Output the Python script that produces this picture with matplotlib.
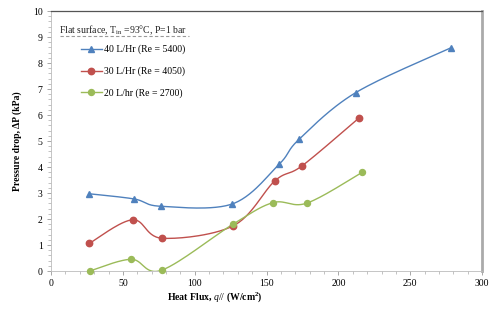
import numpy as np
import matplotlib
matplotlib.use("Agg")
import matplotlib.pyplot as plt
from matplotlib.lines import Line2D
from matplotlib.ticker import MultipleLocator

plt.rcParams['font.family'] = ['Liberation Serif', 'DejaVu Serif']
plt.rcParams['mathtext.fontset'] = 'custom'
plt.rcParams['mathtext.rm'] = 'Liberation Serif'
plt.rcParams['mathtext.it'] = 'Liberation Serif:italic'
plt.rcParams['mathtext.bf'] = 'Liberation Serif:bold'

# data
x40 = [26.6, 57.9, 76.2, 126.2, 158.6, 172.5, 212.0, 278.5]
y40 = [2.97, 2.77, 2.49, 2.58, 4.10, 5.06, 6.86, 8.59]
x30 = [26.6, 56.7, 77.3, 126.9, 155.8, 174.8, 214.6]
y30 = [1.06, 1.97, 1.26, 1.74, 3.47, 4.05, 5.90]
x20 = [26.9, 55.8, 76.9, 126.6, 154.5, 178.0, 216.7]
y20 = [0.0, 0.45, 0.03, 1.80, 2.63, 2.61, 3.80]
labels = ["40 L/Hr (Re = 5400)", "30 L/Hr (Re = 4050)", "20 L/hr (Re = 2700)"]
colors = ["#4F81BD", "#C0504D", "#9BBB59"]
markers = ["^", "o", "o"]
msizes = [5, 4.6, 4.3]

fig = plt.figure(figsize=(4.92, 3.10), dpi=100)
ax = fig.add_axes([0.1037, 0.1258, 0.8763, 0.8387])
ax.set_xlim(0, 300)
ax.set_ylim(0, 10)

def smooth(xs, ys, sx=1.437, sy=26.0, n=30):
    P = np.column_stack([np.array(xs) * sx, np.array(ys) * sy])
    out = [P[0]]
    m = len(P)
    for i in range(m - 1):
        p0 = P[i - 1] if i > 0 else P[i]
        p1, p2 = P[i], P[i + 1]
        p3 = P[i + 2] if i + 2 < m else P[i + 1]
        c1 = p1 + (p2 - p0) / 6.0
        c2 = p2 - (p3 - p1) / 6.0
        t = np.linspace(0, 1, n)[1:, None]
        seg = ((1 - t) ** 3) * p1 + 3 * ((1 - t) ** 2) * t * c1 + 3 * (1 - t) * t ** 2 * c2 + t ** 3 * p2
        out.extend(seg)
    out = np.array(out)
    return out[:, 0] / sx, out[:, 1] / sy

handles = []
for xs, ys, c, mk, ms, lab in zip([x40, x30, x20], [y40, y30, y20], colors, markers, msizes, labels):
    sxv, syv = smooth(xs, ys)
    ax.plot(sxv, syv, color=c, lw=1.0, zorder=2)
    ax.plot(xs, ys, linestyle='none', marker=mk, color=c, markersize=ms, zorder=3, clip_on=False)
    handles.append(Line2D([0], [0], color=c, lw=1.0, marker=mk, markersize=ms))

ax.xaxis.set_major_locator(MultipleLocator(50))
ax.xaxis.set_minor_locator(MultipleLocator(10))
ax.yaxis.set_major_locator(MultipleLocator(1))
ax.yaxis.set_minor_locator(MultipleLocator(0.2))
ax.tick_params(axis='both', which='major', labelsize=7, length=3, color='#999999', width=0.6, pad=3)
ax.tick_params(axis='both', which='minor', length=2, color='#aaaaaa', width=0.5)
ax.tick_params(axis='x', direction='out')
for s in ['left', 'bottom']:
    ax.spines[s].set_color('#bbbbbb')
    ax.spines[s].set_linewidth(0.6)
ax.spines['top'].set_color('#555555')
ax.spines['top'].set_linewidth(0.9)
ax.spines['right'].set_color('#aaaaaa')
ax.spines['right'].set_linewidth(2.0)

ax.set_xlabel(r"Heat Flux, $\mathit{q//}$ (W/cm$^{\mathbf{2}}$)", fontsize=7, fontweight='bold', labelpad=2)
ax.xaxis.set_label_coords(0.38, -0.075)
ax.set_ylabel("Pressure drop, ΔP (kPa)", fontsize=7, fontweight='bold', labelpad=8)

ax.text(0.018, 0.925, r"Flat surface, T$_{\mathrm{in}}$ =93°C, P=1 bar", transform=ax.transAxes,
        fontsize=7, color='#222222', va='center', ha='left')
ax.add_line(Line2D([0.02, 0.32], [0.902, 0.902], transform=ax.transAxes,
                   color='#999999', lw=0.8, linestyle=(0, (3, 2))))
leg = ax.legend(handles, labels, loc='upper left', bbox_to_anchor=(0.06, 0.885),
                frameon=False, fontsize=7, handlelength=2.2, handletextpad=0.2,
                labelspacing=1.25, borderaxespad=0)

fig.savefig("out.png", dpi=100)
